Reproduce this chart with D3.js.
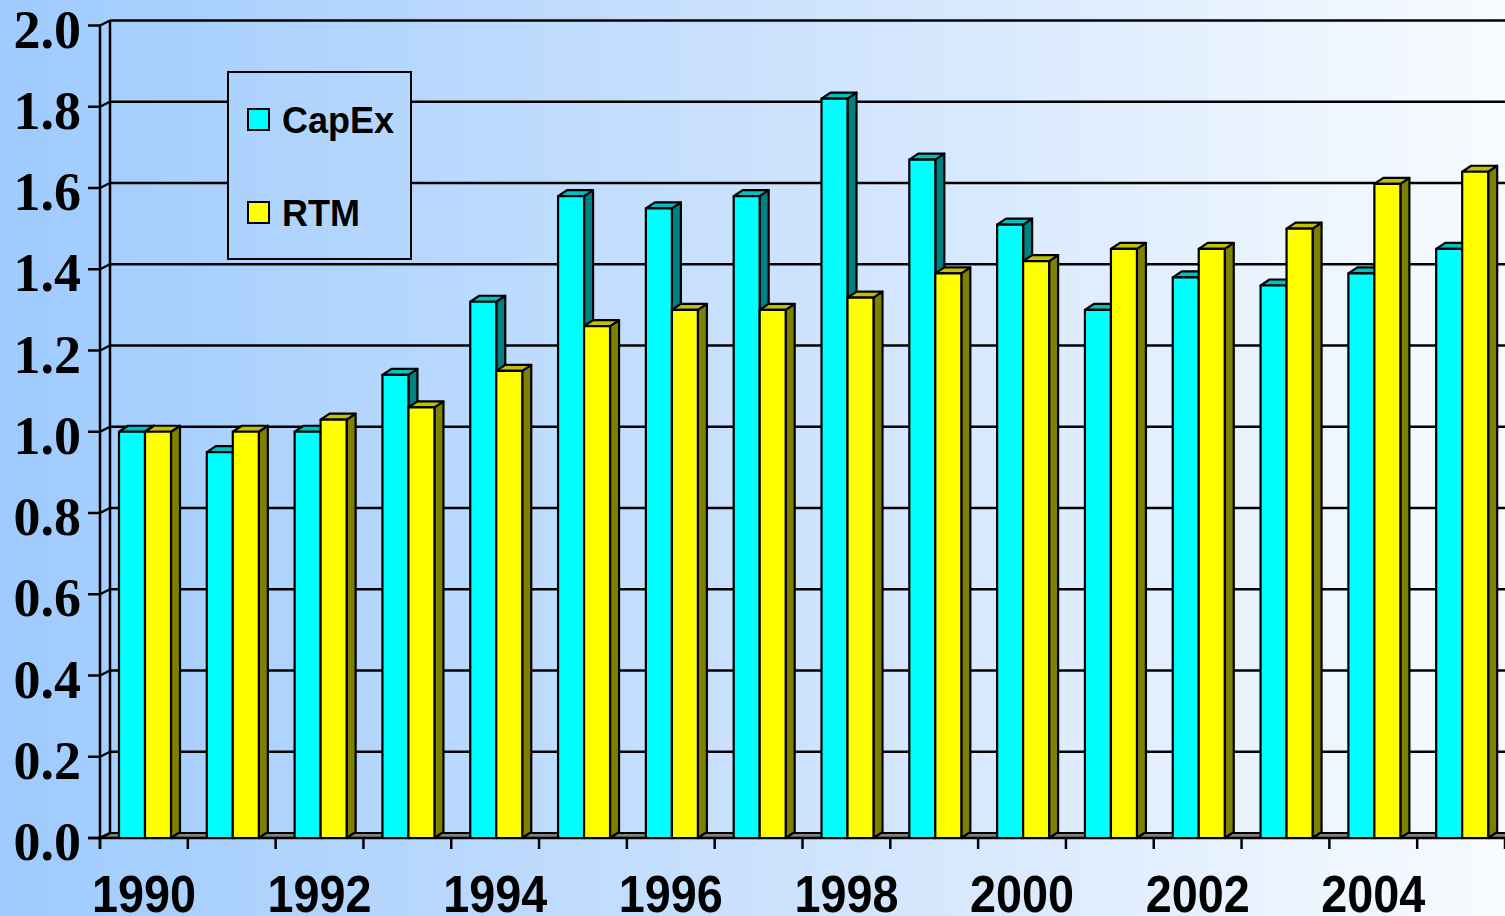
<!DOCTYPE html>
<html>
<head>
<meta charset="utf-8">
<script src="https://cdn.jsdelivr.net/npm/d3@7"></script>
<style>
  html, body { margin: 0; padding: 0; overflow: hidden; }
</style>
</head>
<body>
<div id="chart"></div>
<script>
// data
const years = ["1990","1991","1992","1993","1994","1995","1996","1997","1998","1999","2000","2001","2002","2003","2004","2005"];
const capex = [1.00, 0.95, 1.00, 1.14, 1.32, 1.58, 1.55, 1.58, 1.82, 1.67, 1.51, 1.30, 1.38, 1.36, 1.39, 1.45];
const rtm   = [1.00, 1.00, 1.03, 1.06, 1.15, 1.26, 1.30, 1.30, 1.33, 1.39, 1.42, 1.45, 1.45, 1.50, 1.61, 1.64];
const seriesNames = ["CapEx", "RTM"];
const yTicks = [0, 0.2, 0.4, 0.6, 0.8, 1.0, 1.2, 1.4, 1.6, 1.8, 2.0];
const xLabels = ["1990","1992","1994","1996","1998","2000","2002","2004"];

const W = 1505, H = 916;
const left = 100, right = 1505;
const wallDx = 10, wallDy = 5;   // depth of the walls
const barDx = 9, barDy = 6;      // depth of the bars

const colors = {
  CapEx: { front: "#00ffff", top: "#00c0c0", side: "#008080" },
  RTM:   { front: "#ffff00", top: "#c0c000", side: "#808000" }
};

const svg = d3.select("#chart").append("svg")
  .attr("width", W).attr("height", H);

const defs = svg.append("defs");
const grad = defs.append("linearGradient")
  .attr("id", "bg").attr("gradientUnits", "userSpaceOnUse")
  .attr("x1", 0).attr("y1", 0).attr("x2", W).attr("y2", 0);
grad.append("stop").attr("offset", "0%").attr("stop-color", "#9ecbfd");
grad.append("stop").attr("offset", "45%").attr("stop-color", "#c6dffd");
grad.append("stop").attr("offset", "100%").attr("stop-color", "#f8fbff");

svg.append("rect").attr("width", W).attr("height", H).attr("fill", "url(#bg)");

// scales
const y = d3.scaleLinear().domain([0, 2]).range([838, 25.5]);
const x0 = d3.scaleBand().domain(years).range([left, right]);
const x1 = d3.scaleBand().domain(seriesNames).range([19, 71]);

// floor
svg.append("polygon")
  .attr("points", [[left, y(0)], [left + wallDx, y(0) - wallDy], [right + wallDx, y(0) - wallDy], [right, y(0)]].join(" "))
  .attr("fill", "#808080").attr("stroke", "#000").attr("stroke-width", 2);

// side wall and gridlines
const wall = svg.append("g").attr("stroke", "#000").attr("stroke-width", 2.5).attr("fill", "none");
wall.append("line").attr("x1", left + wallDx).attr("x2", left + wallDx)
  .attr("y1", y(2) - wallDy).attr("y2", y(0) - wallDy);
yTicks.forEach(t => {
  wall.append("line")
    .attr("x1", left).attr("y1", y(t))
    .attr("x2", left + wallDx).attr("y2", y(t) - wallDy);
  if (t > 0) {
    wall.append("line")
      .attr("x1", left + wallDx).attr("y1", y(t) - wallDy)
      .attr("x2", W).attr("y2", y(t) - wallDy);
  }
});

// y axis
const yAxis = svg.append("g").attr("stroke", "#000").attr("stroke-width", 2.5);
yAxis.append("line").attr("x1", left).attr("x2", left).attr("y1", y(2)).attr("y2", y(0) + 11);
yTicks.forEach(t => {
  yAxis.append("line").attr("x1", left - 12).attr("x2", left).attr("y1", y(t)).attr("y2", y(t));
});
svg.append("g").selectAll("text")
  .data(yTicks).enter().append("text")
  .attr("x", 81).attr("y", d => y(d) + 22)
  .attr("text-anchor", "end")
  .attr("font-family", "Liberation Serif, Times New Roman, serif")
  .attr("font-weight", "bold").attr("font-size", 54)
  .text(d => d.toFixed(1));

// x axis
const xAxis = svg.append("g").attr("stroke", "#000").attr("stroke-width", 2.5);
xAxis.append("line").attr("x1", left - 12).attr("x2", W).attr("y1", y(0)).attr("y2", y(0));
d3.range(years.length + 1).forEach(i => {
  const xx = left + i * x0.bandwidth();
  xAxis.append("line").attr("x1", xx).attr("x2", xx).attr("y1", y(0)).attr("y2", y(0) + 11);
});
svg.append("g").selectAll("text")
  .data(xLabels).enter().append("text")
  .attr("x", d => x0(d) + x0.bandwidth() / 2)
  .attr("y", 912)
  .attr("text-anchor", "middle")
  .attr("font-family", "Liberation Sans, Arial, sans-serif")
  .attr("font-weight", "bold").attr("font-size", 51)
  .attr("textLength", 104).attr("lengthAdjust", "spacingAndGlyphs")
  .text(d => d);

// 3d bars
function bar(g, x, w, v, c) {
  const yt = y(v), yb = y(0);
  g.append("polygon")
    .attr("points", [[x + w, yt], [x + w + barDx, yt - barDy], [x + w + barDx, yb - barDy], [x + w, yb]].join(" "))
    .attr("fill", c.side);
  g.append("polygon")
    .attr("points", [[x, yt], [x + barDx, yt - barDy], [x + w + barDx, yt - barDy], [x + w, yt]].join(" "))
    .attr("fill", c.top);
  g.append("rect")
    .attr("x", x).attr("y", yt).attr("width", w).attr("height", yb - yt)
    .attr("fill", c.front);
}

const bars = svg.append("g")
  .attr("stroke", "#000").attr("stroke-width", 2.2).attr("stroke-linejoin", "round");
years.forEach((yr, i) => {
  const g = bars.append("g");
  bar(g, x0(yr) + x1("CapEx"), x1.bandwidth(), capex[i], colors.CapEx);
  bar(g, x0(yr) + x1("RTM"), x1.bandwidth(), rtm[i], colors.RTM);
});

// legend
const legend = svg.append("g");
legend.append("rect")
  .attr("x", 228).attr("y", 72).attr("width", 183).attr("height", 187)
  .attr("fill", "url(#bg)").attr("stroke", "#000").attr("stroke-width", 2);
seriesNames.forEach((s, i) => {
  const ly = 109 + i * 93;
  legend.append("rect")
    .attr("x", 248).attr("y", ly).attr("width", 21).attr("height", 21)
    .attr("fill", colors[s].front).attr("stroke", "#000").attr("stroke-width", 2);
  legend.append("text")
    .attr("x", 282).attr("y", ly + 24)
    .attr("font-family", "Liberation Sans, Arial, sans-serif")
    .attr("font-weight", "bold").attr("font-size", 36)
    .text(s);
});
</script>
</body>
</html>
